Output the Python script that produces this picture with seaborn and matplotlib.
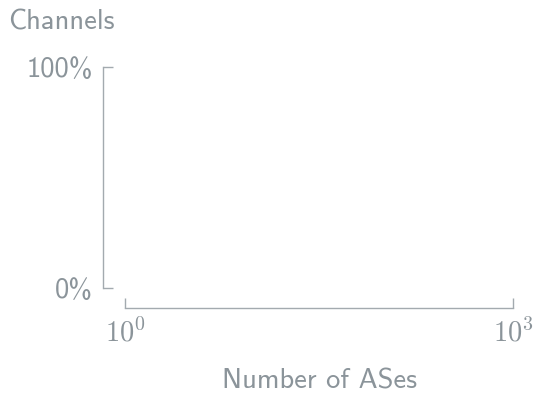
import matplotlib
matplotlib.use("Agg")
import matplotlib.pyplot as plt
import seaborn as sns

# Achsen-Daten (das Diagramm ist leer, nur Achsen)
x_ticks = [1, 1000]
x_tick_labels = [r'$10^0$', r'$10^3$']
y_ticks = [0, 1]
y_labels = ['0%', '100%']
x_label = 'Number of ASes'
y_label = 'Channels'

grey = '#8b949a'
spine_grey = '#a3aaaf'

sns.set_style('ticks')
plt.rcParams['mathtext.fontset'] = 'cm'
plt.rcParams['font.family'] = ['cmss10', 'DejaVu Sans']
plt.rcParams['axes.formatter.use_mathtext'] = True

fig = plt.figure(figsize=(5.37, 3.95), dpi=100)
ax = fig.add_axes([125 / 537, 1 - 288 / 395, 388 / 537, 221 / 395])

ax.set_xscale('log')
ax.set_xlim(x_ticks[0], x_ticks[-1])
ax.set_ylim(y_ticks[0], y_ticks[-1])
ax.set_xticks(x_ticks)
ax.set_xticklabels(x_tick_labels)
ax.set_yticks(y_ticks)
ax.set_yticklabels(y_labels)
ax.minorticks_off()

ax.tick_params(direction='in', length=7, width=1, colors=spine_grey,
               labelcolor=grey, labelsize=20.5, pad=7)
for s in ['left', 'bottom']:
    ax.spines[s].set_color(spine_grey)
    ax.spines[s].set_linewidth(1)
sns.despine(ax=ax, offset={'left': 16, 'bottom': 14.5}, trim=True)

ax.set_xlabel(x_label, color=grey, fontsize=20.5, labelpad=16)
fig.text(8 / 537, 1 - 30 / 395, y_label, color=grey, fontsize=20.5,
         ha='left', va='baseline')

fig.savefig('out.png', dpi=100)
